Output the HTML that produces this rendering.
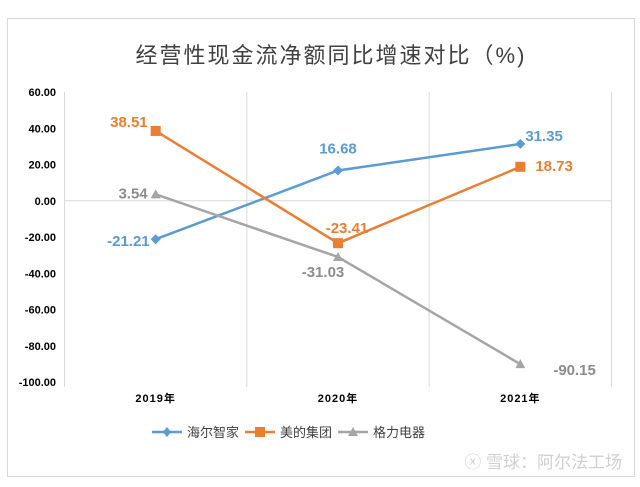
<!DOCTYPE html>
<html><head><meta charset="utf-8"><style>
body{margin:0;background:#fff;font-family:"Liberation Sans","Noto Sans CJK SC",sans-serif}
svg text{font-family:"Liberation Sans","Noto Sans CJK SC",sans-serif}
</style></head><body>
<svg id="chart" width="640" height="482" xmlns="http://www.w3.org/2000/svg">
<rect x="7.5" y="18.5" width="627" height="458" fill="#fff" stroke="#d9d9d9"/>
<text x="331" y="63" text-anchor="middle" font-size="22" fill="#404040" letter-spacing="2">经营性现金流净额同比增速对比（%)</text>
<g id="grid"></g><g id="axes"></g><g id="series"></g>
<g font-size="13" fill="#404040">
<g><line x1="152" y1="432" x2="182" y2="432" stroke="#5B9BD5" stroke-width="2.5"/><path d="M167 427 L171 432 L167 437 L163 432Z" fill="#5B9BD5"/><text x="187" y="437">海尔智家</text></g>
<g><line x1="245" y1="432" x2="275" y2="432" stroke="#ED7D31" stroke-width="2.5"/><rect x="255" y="427" width="10" height="10" fill="#ED7D31"/><text x="280" y="437">美的集团</text></g>
<g><line x1="338" y1="432" x2="368" y2="432" stroke="#A5A5A5" stroke-width="2.5"/><path d="M353 427 L358 436 L348 436Z" fill="#A5A5A5"/><text x="373" y="437">格力电器</text></g>
</g>
<text x="622" y="468" text-anchor="end" font-size="17" fill="#d0d0d0">ⓧ 雪球：阿尔法工场</text>
</svg>
<script>
const categories=["2019年","2020年","2021年"];
const yTicks=[60,40,20,0,-20,-40,-60,-80,-100];
const haier=[-21.21,16.68,31.35];
const midea=[38.51,-23.41,18.73];
const gree=[3.54,-31.03,-90.15];
const NS="http://www.w3.org/2000/svg";
const L=64.5,R=611.5,T=92,B=382,ymin=-100,ymax=60;
const cw=(R-L)/categories.length;
const x=i=>L+cw*(i+0.5);
const y=v=>T+(ymax-v)/(ymax-ymin)*(B-T);
function mk(tag,attrs,parent,text){const e=document.createElementNS(NS,tag);for(const k in attrs)e.setAttribute(k,attrs[k]);if(text!==undefined)e.textContent=text;document.getElementById(parent).appendChild(e);return e;}
for(let i=0;i<=categories.length;i++){const gx=L+cw*i;
const g=mk('line',{x1:gx,x2:gx,y1:T,y2:B+5,stroke:'#d9d9d9'},'grid');

}
const zl=mk('line',{x1:L,x2:R,y1:y(0),y2:y(0),stroke:'#d9d9d9'},'grid');


yTicks.forEach(v=>{const t=mk('text',{x:56,y:y(v)+4,'text-anchor':'end','font-size':11,'font-weight':'bold',fill:'#000'},'axes',v.toFixed(2));

});
categories.forEach((c,i)=>{const t=mk('text',{x:x(i),y:402,'text-anchor':'middle','font-size':11,'font-weight':'bold',fill:'#000','letter-spacing':1},'axes',c);

});
const series=[
{name:'haier',data:haier,color:'#5B9BD5',lab:'#5B9BD5',m:'d',off:[[-6,2,'end'],[0,-22,'middle'],[5,-8,'start']]},
{name:'midea',data:midea,color:'#ED7D31',lab:'#ED7D31',m:'s',off:[[-8,-9,'end'],[9,-15,'middle'],[15,-1,'start']]},
{name:'gree',data:gree,color:'#A5A5A5',lab:'#8c8c8c',m:'t',off:[[-8,-1,'end'],[-15,15,'middle'],[33,6,'start']]}];
series.forEach(s=>{
const p=mk('polyline',{points:s.data.map((v,i)=>x(i)+','+y(v)).join(' '),fill:'none',stroke:s.color,'stroke-width':2.5},'series');


s.data.forEach((v,i)=>{const cx=x(i),cy=y(v);let m;
if(s.m==='d')m=mk('path',{d:`M${cx} ${cy-5}L${cx+5} ${cy}L${cx} ${cy+5}L${cx-5} ${cy}Z`,fill:s.color},'series');
else if(s.m==='s')m=mk('rect',{x:cx-5,y:cy-5,width:10,height:10,fill:s.color},'series');
else m=mk('path',{d:`M${cx} ${cy-5}L${cx+5} ${cy+4}L${cx-5} ${cy+4}Z`,fill:s.color},'series');


const o=s.off[i];
const t=mk('text',{x:cx+o[0],y:cy+o[1]+5,'text-anchor':o[2],'font-size':15,'font-weight':'bold',fill:s.lab},'series',v.toFixed(2));

});
});
</script>
</body></html>
